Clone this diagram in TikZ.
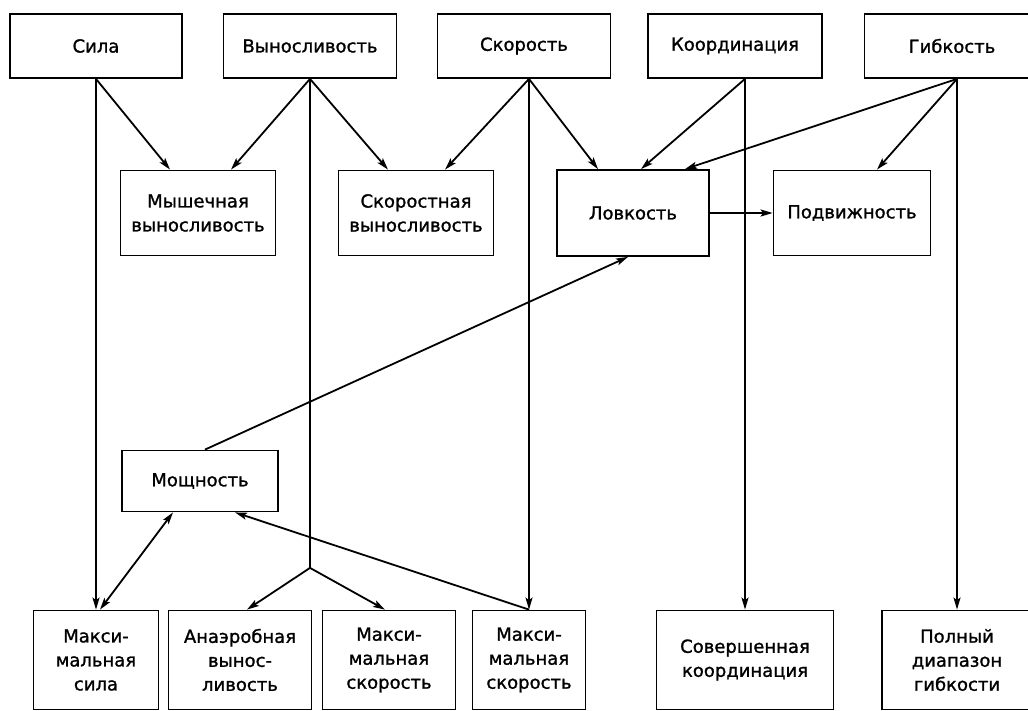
\documentclass[tikz,border=0pt]{standalone}
\usepackage{fontspec}
\setmainfont[FakeBold=1.2]{DejaVu Sans}
\usepackage{tikz}
\usetikzlibrary{positioning,arrows.meta}

\begin{document}
\begin{tikzpicture}
          [box/.style={rectangle,draw=black,fill=white,line width=1.8pt,
                       inner sep=0pt,align=center,
                       font=\fontsize{18}{24}\selectfont},
           x=1pt, y=-1pt,
           >={Stealth[length=12pt,width=7pt,inset=2.5pt]}
          ]
          \useasboundingbox (0,0) rectangle (1028,711);
          % top row
          \node[box,minimum width=172pt,minimum height=64pt] (sila) at (96,46) {Сила};
          \node[box,minimum width=173pt,minimum height=64pt] (vynos) at (310,46) {Выносливость};
          \node[box,minimum width=173pt,minimum height=64pt] (skor) at (524,46) {Скорость};
          \node[box,minimum width=174pt,minimum height=64pt] (koord) at (735,46) {Координация};
          \node[box,minimum width=175pt,minimum height=64pt] (gibk) at (952,46) {Гибкость};
          % second row
          \node[box,minimum width=155pt,minimum height=85pt] (mysh) at (198,213) {Мышечная\\выносливость};
          \node[box,minimum width=155pt,minimum height=85pt] (skvyn) at (416,213) {Скоростная\\выносливость};
          \node[box,minimum width=152pt,minimum height=86pt] (lovk) at (633,213) {Ловкость};
          \node[box,minimum width=157pt,minimum height=85pt] (podv) at (852,213) {Подвижность};
          \node[box,minimum width=156pt,minimum height=61pt] (moshch) at (200,481) {Мощность};
          % bottom row
          \node[box,minimum width=125pt,minimum height=99pt] (msila) at (96,660) {Макси-\\мальная\\сила};
          \node[box,minimum width=143pt,minimum height=99pt] (anaer) at (240,660) {Анаэробная\\вынос-\\ливость};
          \node[box,minimum width=133pt,minimum height=99pt] (mskor1) at (389,660) {Макси-\\мальная\\скорость};
          \node[box,minimum width=113pt,minimum height=99pt] (mskor2) at (529,660) {Макси-\\мальная\\скорость};
          \node[box,minimum width=177pt,minimum height=99pt] (sovk) at (745,660) {Совершенная\\координация};
          \node[box,minimum width=150pt,minimum height=99pt] (polgib) at (957,660) {Полный\\диапазон\\гибкости};
          \coordinate[below=489pt of vynos.south] (fork);
          \draw[line width=1.8pt] (vynos.south) -- (fork)
            edge[->] ([xshift=7pt]anaer.north)
            edge[->] ([xshift=-4pt]mskor1.north);
          \draw[line width=1.8pt,every edge/.append style={->}]
            (sila.south) edge ([xshift=-28pt]mysh.north)
            (msila.north |- sila.south) edge (msila.north)
            (vynos.south) edge ([xshift=33pt]mysh.north)
            (vynos.south) edge ([xshift=-28pt]skvyn.north)
            (mskor2.north |- skor.south) edge ([xshift=29pt]skvyn.north)
            (mskor2.north |- skor.south) edge ([xshift=-35pt]lovk.north)
            (mskor2.north |- skor.south) edge (mskor2.north)
            (sovk.north |- koord.south) edge ([xshift=8pt]lovk.north)
            (sovk.north |- koord.south) edge (sovk.north)
            (polgib.north |- gibk.south) edge ([xshift=52pt]lovk.north)
            (polgib.north |- gibk.south) edge ([xshift=25pt]podv.north)
            (polgib.north |- gibk.south) edge (polgib.north)
            (lovk.east) edge (podv.west)
            ([xshift=5pt]moshch.north) edge ([xshift=-5pt]lovk.south)
            ([xshift=-27pt]moshch.south) edge[<->] ([xshift=4pt]msila.north)
            (mskor2.north) edge ([xshift=35pt]moshch.south);
        \end{tikzpicture}
\end{document}
